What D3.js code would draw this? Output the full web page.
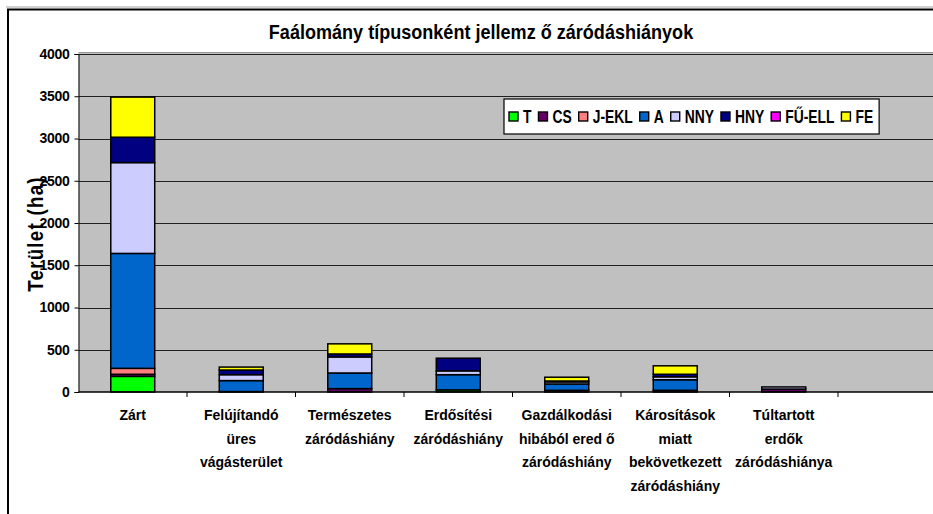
<!DOCTYPE html>
<html>
<head>
<meta charset="utf-8">
<script src="https://cdn.jsdelivr.net/npm/d3@7"></script>
<style>
  body { margin: 0; background: #fff; }
  svg { display: block; font-family: "Liberation Sans", Arial, sans-serif; font-weight: bold; }
</style>
</head>
<body>
<svg id="chart" width="933" height="514"></svg>
<script>
// ── Data ─────────────────────────────────────────────────────
const CATEGORIES = [
  ['Zárt'],
  ['Felújítandó', 'üres', 'vágásterület'],
  ['Természetes', 'záródáshiány'],
  ['Erdősítési', 'záródáshiány'],
  ['Gazdálkodási', 'hibából ered ő', 'záródáshiány'],
  ['Károsítások', 'miatt', 'bekövetkezett', 'záródáshiány'],
  ['Túltartott', 'erdők', 'záródáshiánya'],
  ['']
];
const SERIES = ['T', 'CS', 'J-EKL', 'A', 'NNY', 'HNY', 'FŰ-ELL', 'FE'];
const COLORS = ['#00ff00', '#660066', '#ff8080', '#0066cc', '#ccccff', '#000080', '#ff00ff', '#ffff00'];

const T_VALUES     = [185,  0,   0,  25,  0,   0,  0,  0];
const CS_VALUES    = [ 25,  5,  40,   0, 20,  20, 35,  0];
const JEKL_VALUES  = [ 70,  0,   0,   0,  0,   0,  0,  0];
const A_VALUES     = [1360, 130, 185, 180, 75, 125,  0, 0];
const NNY_VALUES   = [1075, 70, 190,  45, 25,  35, 25,  0];
const HNY_VALUES   = [300,  55,  35, 150, 10,  30,  0,  0];
const FUELL_VALUES = [  0,   0,   0,   0,  0,   0,  0,  0];
const FE_VALUES    = [475,  35, 120,   0, 45, 100,  0,  0];

const Y_TICKS = [0, 500, 1000, 1500, 2000, 2500, 3000, 3500, 4000];

const VALUES = [T_VALUES, CS_VALUES, JEKL_VALUES, A_VALUES, NNY_VALUES, HNY_VALUES, FUELL_VALUES, FE_VALUES];

// ── Layout ───────────────────────────────────────────────────
const svg = d3.select('#chart');
const plot = { left: 78.5, right: 946.5, top: 54, bottom: 392 };

const table = CATEGORIES.map((c, i) => {
  const row = { idx: i };
  SERIES.forEach((s, k) => { row[s] = VALUES[k][i]; });
  return row;
});
const stacked = d3.stack().keys(SERIES)(table);

const x = d3.scaleBand().domain(d3.range(CATEGORIES.length))
  .range([plot.left, plot.right]).paddingInner(0.595).paddingOuter(0.2975);
const slot = d3.scaleBand().domain(d3.range(CATEGORIES.length)).range([plot.left, plot.right]);
const y = d3.scaleLinear().domain([0, 4000]).range([plot.bottom, plot.top]);

// ── Chart frame ──────────────────────────────────────────────
svg.append('line').attr('x1', 6).attr('x2', 933).attr('y1', 7).attr('y2', 7)
  .attr('stroke', '#a0a0a0').attr('stroke-width', 1);
svg.append('path').attr('d', 'M8,514 V9.5 H933')
  .attr('fill', 'none').attr('stroke', '#000').attr('stroke-width', 2);

// ── Title (narrow bold, like the original Excel font) ────────
svg.append('text').attr('transform', 'translate(481,39) scale(0.86,1)')
  .attr('text-anchor', 'middle').attr('font-size', 21).attr('fill', '#000')
  .text('Faálomány típusonként jellemz ő záródáshiányok');

// ── Plot area ────────────────────────────────────────────────
svg.append('rect').attr('x', plot.left).attr('y', plot.top - 1.5)
  .attr('width', plot.right - plot.left).attr('height', plot.bottom - plot.top + 1.5)
  .attr('fill', '#c0c0c0');
svg.append('line').attr('x1', plot.left).attr('x2', plot.right)
  .attr('y1', plot.top - 1.5).attr('y2', plot.top - 1.5).attr('stroke', '#9a9a9a');

svg.append('g').selectAll('line').data(Y_TICKS.filter(t => t > 0)).join('line')
  .attr('x1', plot.left).attr('x2', plot.right)
  .attr('y1', d => Math.round(y(d)) + 0.5).attr('y2', d => Math.round(y(d)) + 0.5)
  .attr('stroke', '#202020').attr('stroke-width', 1);

// ── Bars ─────────────────────────────────────────────────────
svg.append('g').selectAll('g').data(stacked).join('g')
  .attr('fill', (d, i) => COLORS[i])
  .selectAll('rect').data(d => d.filter(p => p[1] - p[0] > 0)).join('rect')
  .attr('x', d => x(d.data.idx))
  .attr('width', x.bandwidth())
  .attr('y', d => y(d[1]))
  .attr('height', d => y(d[0]) - y(d[1]))
  .attr('stroke', '#000').attr('stroke-width', 1.5);

// ── Axes ─────────────────────────────────────────────────────
const yAxis = svg.append('g').attr('transform', `translate(${plot.left},0)`)
  .call(d3.axisLeft(y).tickValues(Y_TICKS).tickFormat(d3.format('d')).tickSize(4).tickPadding(5));
yAxis.select('.domain').attr('stroke', '#000');
yAxis.selectAll('text').attr('font-size', 14).attr('font-family', null).attr('font-weight', 'bold')
  .attr('letter-spacing', -0.3).attr('fill', '#000');

const xAxis = svg.append('g').attr('transform', `translate(0,${plot.bottom})`);
xAxis.append('line').attr('x1', plot.left).attr('x2', plot.right).attr('stroke', '#000').attr('stroke-width', 1.5);
xAxis.selectAll('.tk').data(d3.range(1, CATEGORIES.length)).join('line').attr('class', 'tk')
  .attr('x1', d => slot(d)).attr('x2', d => slot(d)).attr('y1', 0).attr('y2', 5).attr('stroke', '#000');

xAxis.selectAll('.cat').data(CATEGORIES).join('text').attr('class', 'cat')
  .attr('text-anchor', 'middle').attr('font-size', 14).attr('fill', '#000')
  .each(function (lines, i) {
    const t = d3.select(this);
    lines.forEach((ln, j) => {
      t.append('tspan').attr('x', slot(i) + slot.bandwidth() / 2).attr('y', 28 + j * 23.5).text(ln);
    });
  });

// Y axis title
svg.append('text').attr('transform', 'translate(43,234) rotate(-90) scale(0.85,1)')
  .attr('text-anchor', 'middle').attr('font-size', 22).attr('letter-spacing', 1.5)
  .attr('fill', '#000').text('Terület (ha)');

// ── Legend ───────────────────────────────────────────────────
const LSCALE = 0.77;
const legend = svg.append('g').attr('transform', 'translate(504,99)');
const legendBox = legend.append('rect').attr('width', 378).attr('height', 35)
  .attr('fill', '#fff').attr('stroke', '#000').attr('stroke-width', 1.2);
let lx = 5;
SERIES.forEach((s, i) => {
  legend.append('rect').attr('x', lx).attr('y', 13).attr('width', 9).attr('height', 9)
    .attr('fill', COLORS[i]).attr('stroke', '#000').attr('stroke-width', 1.4);
  const t = legend.append('text').attr('transform', `translate(${lx + 14},24) scale(${LSCALE},1)`)
    .attr('font-size', 18).attr('fill', '#000').text(s);
  lx += 14 + t.node().getComputedTextLength() * LSCALE + 7;
});
legendBox.attr('width', Math.max(lx - 1, 100));
</script>
</body>
</html>
